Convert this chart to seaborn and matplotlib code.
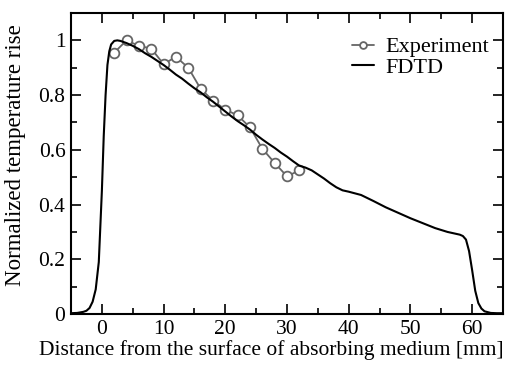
import matplotlib
matplotlib.use("Agg")
import matplotlib.pyplot as plt
import seaborn as sns
import numpy as np
from matplotlib.ticker import MultipleLocator

# measured points
exp_x = [2, 4, 6, 8, 10, 12, 14, 16, 18, 20, 22, 24, 26, 28, 30, 32]
exp_y = [0.955, 1.0, 0.98, 0.97, 0.913, 0.94, 0.90, 0.823, 0.78, 0.747,
         0.726, 0.682, 0.604, 0.552, 0.503, 0.525]

# simulated curve
fdtd_x = [-5, -4, -3, -2.5, -2, -1.5, -1, -0.5, 0, 0.3, 0.6, 0.9, 1.2, 1.5, 2, 2.5, 3,
          4, 5, 6, 7, 8, 9, 10, 11, 12, 13, 14, 15, 16, 17, 18, 19, 20, 21, 22, 23,
          24, 25, 26, 27, 28, 29, 30, 31, 32, 33, 34, 35, 36, 37, 38, 39, 40, 42, 44,
          46, 48, 50, 52, 54, 56, 57, 58, 58.5, 59, 59.5, 60, 60.5, 61, 61.5, 62, 63,
          64, 65]
fdtd_y = [0.003, 0.004, 0.008, 0.012, 0.022, 0.045, 0.09, 0.19, 0.45, 0.65, 0.8, 0.91,
          0.96, 0.985, 0.998, 1.0, 0.998, 0.99, 0.98, 0.968, 0.953, 0.94, 0.925, 0.91,
          0.893, 0.875, 0.86, 0.842, 0.825, 0.81, 0.792, 0.776, 0.758, 0.74, 0.722,
          0.705, 0.69, 0.674, 0.655, 0.638, 0.622, 0.607, 0.59, 0.575, 0.558, 0.542,
          0.535, 0.525, 0.51, 0.495, 0.478, 0.463, 0.452, 0.447, 0.435, 0.413, 0.39,
          0.37, 0.35, 0.332, 0.314, 0.3, 0.295, 0.29, 0.285, 0.272, 0.23, 0.16, 0.085,
          0.04, 0.02, 0.01, 0.004, 0.003, 0.003]

sns.set_style("ticks")
plt.rcParams['font.family'] = ['Liberation Serif', 'DejaVu Serif']
plt.rcParams.update({'axes.edgecolor': 'black', 'xtick.color': 'black',
                     'ytick.color': 'black', 'text.color': 'black',
                     'axes.labelcolor': 'black'})

fig = plt.figure(figsize=(5.32, 3.66), dpi=100)
ax = fig.add_axes([0.1335, 0.142, 0.812, 0.8225])

sns.lineplot(x=exp_x, y=exp_y, ax=ax, color='#666666', lw=1.3, marker='o',
             markersize=7, markerfacecolor='white', markeredgecolor='#666666',
             markeredgewidth=1.3, label='Experiment')
sns.lineplot(x=fdtd_x, y=fdtd_y, ax=ax, color='black', lw=1.5, label='FDTD')

ax.set_xlim(-5, 65)
ax.set_ylim(0, 1.1)
ax.xaxis.set_major_locator(MultipleLocator(10))
ax.xaxis.set_minor_locator(MultipleLocator(5))
ax.yaxis.set_major_locator(MultipleLocator(0.2))
ax.yaxis.set_minor_locator(MultipleLocator(0.1))
ax.set_yticks([0, 0.2, 0.4, 0.6, 0.8, 1.0])
ax.set_yticklabels(['0', '0.2', '0.4', '0.6', '0.8', '1'])

ax.tick_params(which='both', direction='in', top=True, right=True, labelsize=15.5,
               width=1.2, pad=4)
ax.tick_params(which='major', length=7)
ax.tick_params(which='minor', length=4)
for s in ax.spines.values():
    s.set_linewidth(1.5)

ax.set_xlabel('Distance from the surface of absorbing medium [mm]', fontsize=15.5)
ax.xaxis.set_label_coords(0.464, -0.085)
ax.set_ylabel('Normalized temperature rise', fontsize=16.5)
ax.yaxis.set_label_coords(-0.105, 0.528)

leg = ax.legend(loc='upper right', frameon=False, fontsize=16, handlelength=1.0,
                handletextpad=0.5, labelspacing=0.0, markerscale=0.7,
                bbox_to_anchor=(1.014, 0.987))

fig.savefig('out.png', dpi=100)
